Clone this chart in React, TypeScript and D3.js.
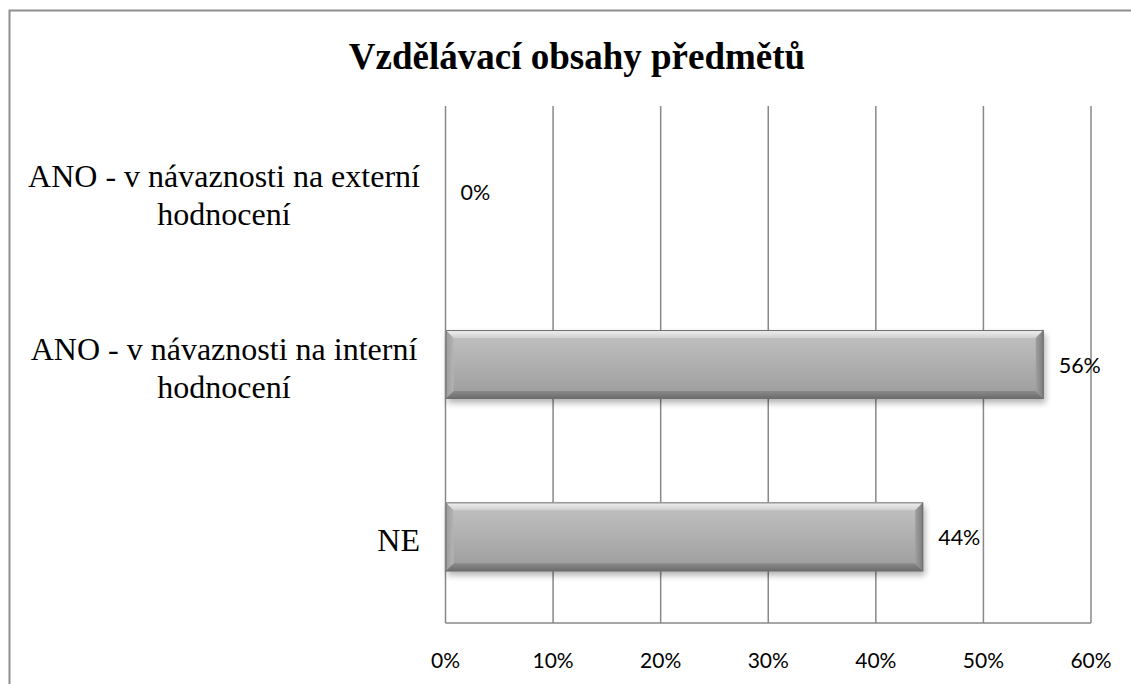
import React from "react";
import * as d3 from "d3";

const title = "Vzdělávací obsahy předmětů";
const categories = [
  ["ANO - v návaznosti na externí", "hodnocení"],
  ["ANO - v návaznosti na interní", "hodnocení"],
  ["NE"],
];
const values = [0, 0.556, 0.444];
const valueLabels = ["0%", "56%", "44%"];
const ticks = [0, 0.1, 0.2, 0.3, 0.4, 0.5, 0.6];

const W = 1131;
const H = 684;
const plot = { left: 445.5, right: 1091, top: 106, bottom: 623 };

export default function App() {
  const x = d3.scaleLinear().domain([0, 0.6]).range([plot.left, plot.right]);
  const y = d3
    .scaleBand<number>()
    .domain(d3.range(categories.length))
    .range([plot.top, plot.bottom])
    .paddingInner(0.6)
    .paddingOuter(0.3);
  const bw = y.bandwidth();
  const fmt = d3.format(".0%");
  const bev = 8;

  return (
    <svg
      width={W}
      height={H}
      style={{ position: "absolute", left: 0, top: 0, background: "#fff" }}
    >
      <defs>
        <linearGradient id="body" x1="0" y1="0" x2="0" y2="1">
          <stop offset="0" stopColor="#c2c2c2" />
          <stop offset="1" stopColor="#9c9c9c" />
        </linearGradient>
        <linearGradient id="topb" x1="0" y1="0" x2="0" y2="1">
          <stop offset="0" stopColor="#f2f2f2" />
          <stop offset="1" stopColor="#cfcfcf" />
        </linearGradient>
        <linearGradient id="botb" x1="0" y1="0" x2="0" y2="1">
          <stop offset="0" stopColor="#8a8a8a" />
          <stop offset="1" stopColor="#6a6a6a" />
        </linearGradient>
        <linearGradient id="leftb" x1="0" y1="0" x2="1" y2="0">
          <stop offset="0" stopColor="#9a9a9a" />
          <stop offset="1" stopColor="#b4b4b4" />
        </linearGradient>
        <linearGradient id="rightb" x1="0" y1="0" x2="1" y2="0">
          <stop offset="0" stopColor="#a0a0a0" />
          <stop offset="1" stopColor="#7a7a7a" />
        </linearGradient>
        <filter id="shadow" x="-10%" y="-30%" width="120%" height="180%">
          <feGaussianBlur stdDeviation="3" />
        </filter>
      </defs>

      {/* outer chart border */}
      <rect
        x={9.5}
        y={10.5}
        width={W + 20}
        height={H + 20}
        fill="none"
        stroke="#8e8e8e"
        strokeWidth={2}
      />

      <text
        x={577}
        y={69}
        textAnchor="middle"
        fontFamily="'Liberation Serif', 'Times New Roman', serif"
        fontWeight="bold"
        fontSize={37}
        fill="#000"
      >
        {title}
      </text>

      {/* gridlines */}
      {ticks.map((t) => (
        <line
          key={"g" + t}
          x1={x(t)}
          x2={x(t)}
          y1={plot.top}
          y2={plot.bottom}
          stroke="#888"
          strokeWidth={1.5}
        />
      ))}
      <line
        x1={plot.left}
        x2={plot.right}
        y1={plot.bottom}
        y2={plot.bottom}
        stroke="#888"
        strokeWidth={1.5}
      />

      {/* tick labels */}
      {ticks.map((t) => (
        <text
          key={"t" + t}
          x={x(t)}
          y={668}
          textAnchor="middle"
          fontFamily="Lato, 'Open Sans', sans-serif"
          fontSize={21}
          fill="#000"
        >
          {fmt(t)}
        </text>
      ))}

      {/* bars */}
      {values.map((v, i) => {
        const y0 = y(i)!;
        const x0 = x(0);
        const x1 = x(v);
        const w = x1 - x0;
        if (w <= 0) return null;
        const y1 = y0 + bw;
        const b = Math.min(bev, w / 2);
        return (
          <g key={"b" + i}>
            <rect
              x={x0 + 2}
              y={y0 + 4}
              width={w}
              height={bw}
              fill="#000"
              opacity={0.3}
              filter="url(#shadow)"
            />
            <rect x={x0} y={y0} width={w} height={bw} fill="url(#body)" />
            <polygon
              points={`${x0},${y0} ${x1},${y0} ${x1 - b},${y0 + b} ${x0 + b},${y0 + b}`}
              fill="url(#topb)"
            />
            <polygon
              points={`${x0},${y1} ${x1},${y1} ${x1 - b},${y1 - b} ${x0 + b},${y1 - b}`}
              fill="url(#botb)"
            />
            <polygon
              points={`${x0},${y0} ${x0 + b},${y0 + b} ${x0 + b},${y1 - b} ${x0},${y1}`}
              fill="url(#leftb)"
            />
            <polygon
              points={`${x1},${y0} ${x1 - b},${y0 + b} ${x1 - b},${y1 - b} ${x1},${y1}`}
              fill="url(#rightb)"
            />
            <rect
              x={x0 + 0.5}
              y={y0 + 0.5}
              width={w - 1}
              height={bw - 1}
              fill="none"
              stroke="#6f6f6f"
              strokeWidth={1}
            />
          </g>
        );
      })}

      {/* value labels */}
      {values.map((v, i) => (
        <text
          key={"v" + i}
          x={x(v) + 15}
          y={y(i)! + bw / 2 + 8}
          fontFamily="Lato, 'Open Sans', sans-serif"
          fontSize={21.5}
          fill="#000"
        >
          {valueLabels[i]}
        </text>
      ))}

      {/* category labels: block right-aligned, wrapped lines centred */}
      {categories.map((lines, i) => {
        const cy = y(i)! + bw / 2;
        const lh = 38;
        const n = lines.length;
        return (
          <text
            key={"c" + i}
            fontFamily="'Liberation Serif', 'Times New Roman', serif"
            fontSize={32}
            fill="#000"
            textAnchor={n > 1 ? "middle" : "end"}
          >
            {lines.map((l, j) => (
              <tspan
                key={j}
                x={n > 1 ? 224 : 420}
                y={cy + 14 + (j - (n - 1) / 2) * lh}
              >
                {l}
              </tspan>
            ))}
          </text>
        );
      })}
    </svg>
  );
}
